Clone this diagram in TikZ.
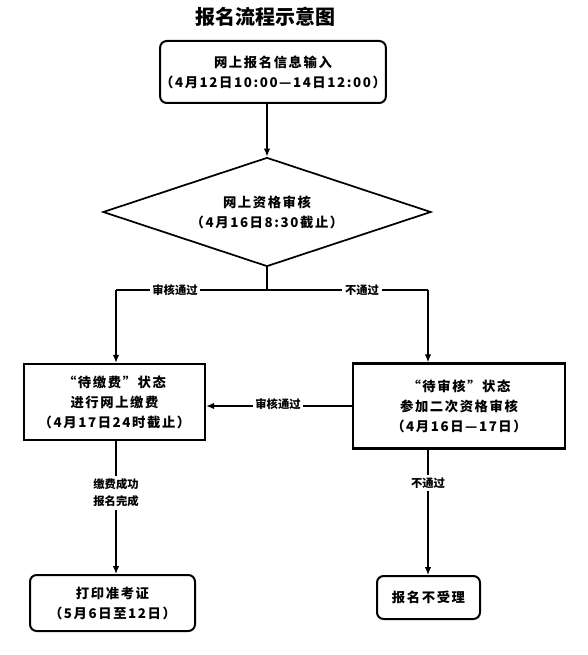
\documentclass[tikz,border=0pt]{standalone}
\usepackage{fontspec}
\setmainfont{Noto Sans CJK SC}
\newfontfamily\spaced[LetterSpace=12]{Noto Sans CJK SC}
\usetikzlibrary{shapes.geometric,arrows.meta}
\tikzset{
    stepbox/.style={draw,line width=1.8pt,align=center,inner sep=0pt,font=\spaced\bfseries\fontsize{10}{15}\selectfont},
    roundbox/.style={stepbox,line width=1.5pt,rounded corners=5pt},
    checkbox/.style={draw,diamond,aspect=3,line width=1.3pt,align=center,inner sep=0pt,
        minimum width=246pt,minimum height=81.75pt,font=\spaced\bfseries\fontsize{10}{15}\selectfont},
    flow/.style={line width=1.1pt},
    arr/.style={flow,-{Latex[length=6pt,width=5pt]}},
    tag/.style={fill=white,inner sep=2pt,align=center,font=\bfseries\fontsize{8.5}{12.5}\selectfont},
}

\begin{document}
\begin{tikzpicture}[x=0.75pt,y=-0.75pt]
            \useasboundingbox (0,0) rectangle (587,655);
            \node[font=\fontsize{15}{18}\selectfont\bfseries] (title) at (265,17) {报名流程示意图};
            \node[roundbox,minimum width=168pt,minimum height=46.5pt] (apply) at (273,72)
                {网上报名信息输入\\（4月12日10:00—14日12:00）};
            \node[checkbox] (check) at (267,212) {网上资格审核\\（4月16日8:30截止）};
            \node[stepbox,minimum width=135.75pt,minimum height=57pt] (pay) at (114.5,402)
                {“待缴费”状态\\进行网上缴费\\（4月17日24时截止）};
            \node[stepbox,minimum width=159pt,minimum height=63.75pt] (recheck) at (459,406)
                {“待审核”状态\\参加二次资格审核\\（4月16日—17日）};
            \node[roundbox,minimum width=123.75pt,minimum height=42pt] (ticket) at (112.5,603)
                {打印准考证\\（5月6日至12日）};
            \node[roundbox,minimum width=77.25pt,minimum height=32.25pt] (reject) at (428.5,597.5)
                {报名不受理};
            \coordinate (fork) at (check.south |- 0,290);
            \coordinate (passL) at (116,290);
            \coordinate (passR) at (428,290);
            % connectors
            \draw[arr] (apply.south -| check.north) -- (check.north);
            \draw[flow] (check.south) -- (fork);
            \draw[flow] (passL) -- (passR);
            \draw[arr] (passL) -- (passL |- pay.north);
            \draw[arr] (passR) -- (passR |- recheck.north);
            \draw[arr] (recheck.west) -- (recheck.west -| pay.east);
            \draw[arr] (pay.south -| passL) -- (ticket.north -| passL);
            \draw[arr] (recheck.south -| passR) -- (reject.north -| passR);
            % labels on the lines
            \node[tag] (okL) at (175,290) {审核通过};
            \node[tag] (noR) at (362,290) {不通过};
            \node[tag] (okM) at (278,404) {审核通过};
            \node[tag] (done) at (116,493) {缴费成功\\报名完成};
            \node[tag] (noB) at (428,483) {不通过};
        \end{tikzpicture}
\end{document}
